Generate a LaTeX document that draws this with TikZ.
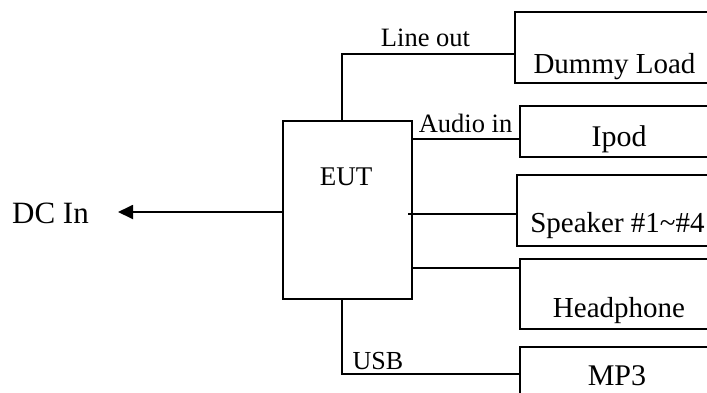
\documentclass[tikz,border=0pt]{standalone}
\usepackage{fontspec}
\setmainfont{Liberation Serif}
\usetikzlibrary{arrows.meta}
\begin{document}
\begin{tikzpicture}[x=1pt,y=-1pt,
  wire/.style={line width=1.8pt},
  boxn/.style={draw,line width=1.8pt,rectangle,inner sep=0pt,outer sep=0pt},
  big/.style={inner sep=0pt,anchor=base,font=\fontsize{29}{30}\selectfont},
  small/.style={inner sep=0pt,anchor=base,font=\fontsize{26.5}{28}\selectfont}]
\useasboundingbox (0,0) rectangle (707,392);
\clip (0,0) rectangle (707,392);
% boxes
\node[boxn,minimum width=129pt,minimum height=178pt] (eut) at (347.5,210) {};
\node[boxn,minimum width=205pt,minimum height=71pt] (dummy) at (617.5,47.5) {};
\node[boxn,minimum width=200pt,minimum height=51pt] (ipod) at (620,131.5) {};
\node[boxn,minimum width=203pt,minimum height=71pt] (spk) at (618.5,210.5) {};
\node[boxn,minimum width=200pt,minimum height=70pt] (head) at (620,294) {};
\node[boxn,minimum width=200pt,minimum height=73pt] (mp3) at (620,383.5) {};
% labels
\node[small,font=\fontsize{27}{28}\selectfont] (teut) at (346,185) {EUT};
\node[big] (tdummy) at (614.5,73) {Dummy Load};
\node[big,font=\fontsize{30}{31}\selectfont] (tipod) at (619,146) {Ipod};
\node[big] (tspk) at (617.5,232) {Speaker \#1\textasciitilde\#4};
\node[big] (thead) at (619,317) {Headphone};
\node[big,font=\fontsize{30}{31}\selectfont] (tmp3) at (617,385) {MP3};
\node[big,font=\fontsize{31}{32}\selectfont] (tdc) at (50.5,223) {DC In};
\node[small] (tlo) at (425.5,46) {Line out};
\node[small] (tai) at (465.5,132) {Audio in};
\node[small,font=\fontsize{26}{27}\selectfont] (tusb) at (378,369) {USB};
% connector helper coordinates
\coordinate (lo) at (342,54);
\coordinate (ai) at (0,139);
\coordinate (sp) at (408,214);
\coordinate (hp) at (0,268);
\coordinate (usb) at (342,374);
\coordinate (dcy) at (0,212);
\coordinate (dctip) at (118,212);
% connectors
\draw[wire] (eut.north -| lo) |- (dummy.west |- lo);
\draw[wire] (eut.east |- ai) -- (ipod.west |- ai);
\draw[wire] (sp) -- (spk.west |- sp);
\draw[wire] (eut.east |- hp) -- (head.west |- hp);
\draw[wire] (eut.south -| usb) |- (mp3.west |- usb);
\draw[wire,-{Triangle[length=15pt,width=14pt]}] (eut.west |- dcy) -- (dctip);
\end{tikzpicture}
\end{document}
